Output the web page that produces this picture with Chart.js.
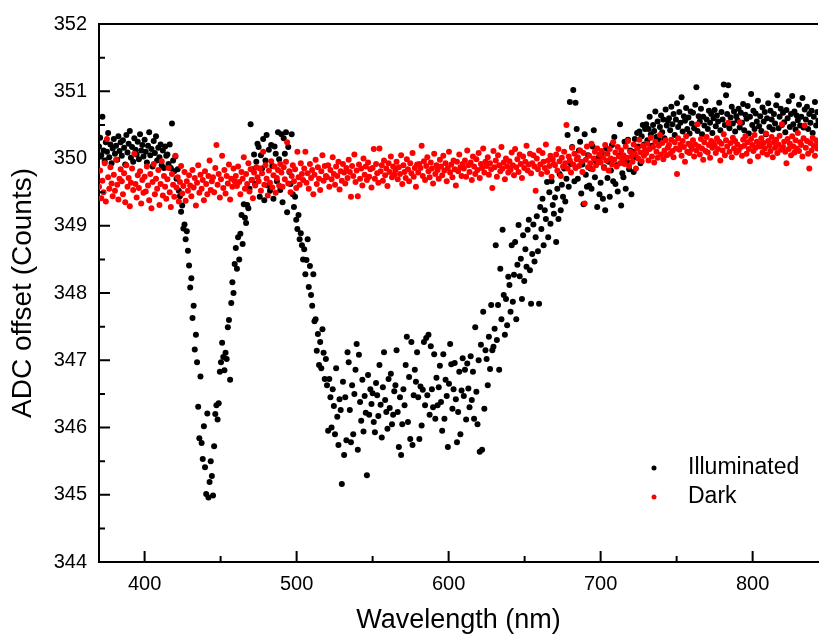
<!DOCTYPE html>
<html>
<head>
<meta charset="utf-8">
<script src="https://cdn.jsdelivr.net/npm/chart.js@4.4.0/dist/chart.umd.min.js"></script>
<style>
  html, body { margin: 0; padding: 0; background: #fff; overflow: hidden; }
</style>
</head>
<body>
<canvas id="chart" width="821" height="637"></canvas>
<script>
// WAVELENGTH GRID (nm)
const wlStart = 370;
const wlStep = 0.75;

// ADC OFFSET, ILLUMINATED (counts), one row = 15 nm
const illuminated = [
  350.18,350.31,350.05,350.62,350.12,349.96,350.24,350.10,350.38,350.02,350.21,349.93,350.15,350.29,350.07,350.19,349.98,350.33,350.11,350.24,
  350.04,350.27,350.16,349.91,350.35,350.09,350.22,350.41,350.01,350.17,349.95,350.30,350.13,350.06,350.25,349.99,350.36,350.12,350.20,350.03,
  350.28,350.10,349.94,350.19,350.39,350.05,350.14,349.88,350.26,350.08,350.33,349.97,350.16,350.02,350.21,349.90,350.12,349.86,350.18,350.04,
  350.06,349.92,350.21,349.86,350.52,349.97,349.81,350.03,349.70,349.84,349.52,349.44,349.21,349.30,348.96,349.02,348.80,348.92,348.63,348.41,
  348.08,348.22,347.63,347.81,347.16,347.38,346.97,346.31,345.84,346.76,345.77,345.53,346.02,345.41,345.01,346.21,344.96,345.19,345.50,345.28,
  344.99,345.72,346.20,346.33,346.12,346.36,346.83,346.97,347.26,347.05,346.85,347.11,347.02,347.49,347.60,346.71,347.85,348.16,348.00,348.43,
  348.67,348.36,348.83,348.50,348.88,349.16,348.73,349.32,349.12,349.04,349.31,349.26,349.55,350.51,349.68,349.84,350.06,349.62,349.95,350.22,
  350.17,349.43,350.05,349.85,350.29,349.38,349.97,350.35,349.60,350.13,349.52,350.20,349.89,349.40,350.18,350.07,349.66,350.39,349.99,349.53,
  350.36,349.35,350.30,350.07,350.39,349.20,350.17,349.80,349.62,350.36,349.47,349.28,349.43,349.09,348.95,349.16,348.80,348.89,348.71,348.50,
  348.65,348.28,348.49,348.80,348.09,348.40,347.97,347.81,348.28,347.58,347.61,347.14,347.39,346.93,347.27,346.88,347.46,347.11,346.72,347.02,
  346.63,345.95,346.72,346.45,346.00,346.57,346.32,345.90,346.88,346.16,345.74,346.42,346.26,345.16,346.68,345.59,346.45,345.81,347.12,346.97,
  346.26,345.78,346.63,345.90,346.50,346.86,347.24,345.67,347.08,346.38,346.10,346.71,345.94,346.47,346.22,345.29,346.78,346.19,346.57,346.35,
  346.51,346.08,345.93,346.66,346.48,346.17,346.93,346.34,345.85,346.60,347.12,346.41,346.23,345.98,346.72,346.29,346.80,346.05,346.19,346.54,
  346.63,347.15,346.23,345.71,346.45,345.59,346.05,346.57,346.33,346.93,347.35,346.08,346.75,345.83,347.27,345.74,346.48,346.86,346.68,347.12,
  346.45,345.83,346.61,346.03,346.56,347.27,346.33,347.33,346.48,347.38,346.19,347.21,346.57,346.30,347.09,346.13,346.74,346.33,346.60,346.92,
  346.38,345.95,347.09,346.13,346.71,346.47,345.71,346.65,347.24,346.94,346.28,346.57,346.96,346.42,345.78,346.23,346.83,345.90,346.55,347.03,
  346.47,346.86,346.12,346.95,346.58,346.30,347.06,346.41,346.83,346.13,347.49,346.53,346.05,347.00,345.64,347.23,345.67,347.72,346.28,347.15,
  347.02,346.63,347.35,346.87,347.82,347.15,347.20,347.47,348.71,347.30,347.82,346.86,348.36,347.61,348.94,347.97,347.38,347.91,347.52,348.24,
  348.12,347.72,348.71,347.87,348.27,348.76,347.61,348.42,349.01,348.25,348.51,347.91,348.86,348.18,348.65,348.39,348.94,349.09,348.34,347.84,
  348.58,349.02,348.47,348.83,349.14,348.62,347.84,349.28,348.95,349.40,348.71,349.23,349.10,349.65,348.83,349.50,349.03,349.66,349.31,349.18,
  349.42,348.76,349.55,349.10,349.77,349.23,349.61,349.43,349.85,349.36,349.70,350.35,349.58,350.84,349.92,350.17,351.02,349.66,350.83,350.44,
  349.70,350.12,350.25,349.48,349.91,349.32,350.36,349.76,349.58,350.05,349.60,349.85,349.55,350.18,350.42,349.72,349.96,349.28,350.01,349.47,
  349.64,350.08,349.40,349.87,349.23,350.15,349.71,349.95,349.43,349.82,350.20,349.66,350.32,349.62,349.90,349.51,350.04,350.51,349.30,349.78,
  349.72,350.25,349.55,349.96,350.28,349.84,350.12,349.47,350.10,349.80,350.29,350.02,350.38,350.18,350.40,349.93,350.33,350.50,350.21,350.44,
  350.51,350.27,350.44,350.62,350.36,350.19,350.50,350.41,350.70,350.32,350.55,350.28,350.47,350.64,350.39,350.58,350.30,350.73,350.49,350.56,
  350.60,350.42,350.77,350.51,350.66,350.35,350.58,350.82,350.47,350.69,350.53,350.91,350.40,350.63,350.56,350.75,350.44,350.61,350.37,350.70,
  350.52,350.68,350.45,350.80,351.06,350.41,350.63,350.55,350.74,350.36,350.62,350.49,350.85,350.58,350.44,350.71,350.53,350.66,350.38,350.60,
  350.72,350.48,350.64,350.55,350.83,350.42,350.69,350.58,351.10,350.50,350.94,350.66,351.09,350.45,350.61,350.77,350.52,350.70,350.40,350.63,
  350.57,350.74,350.46,350.68,350.53,350.81,350.42,350.65,350.59,350.78,350.37,350.62,350.96,350.50,350.71,350.44,350.67,350.55,350.86,350.48,
  350.63,350.41,350.76,350.55,350.69,350.36,350.60,350.82,350.47,350.71,350.58,350.43,350.66,350.52,350.79,350.94,350.45,350.62,350.74,350.50,
  350.68,350.54,350.39,350.72,350.60,350.85,350.47,350.66,350.93,350.51,350.70,350.43,350.64,350.57,350.80,350.49,350.62,350.90,350.46,350.73,
  350.58,350.77,350.44,350.66,350.53,350.71,350.38,350.62,350.84,350.49,350.69,350.56
];

// ADC OFFSET, DARK (counts), same grid
const dark = [
  349.58,349.82,349.41,349.67,349.50,349.93,349.36,350.29,349.72,349.55,349.87,349.63,349.44,349.76,349.52,349.98,349.61,349.39,349.70,349.84,
  349.66,349.47,349.78,349.35,349.90,349.58,349.71,349.29,349.64,349.85,349.53,350.07,349.62,349.42,349.75,349.56,349.81,349.33,349.68,349.49,
  349.73,349.51,349.88,349.60,349.38,349.77,349.26,349.65,349.92,349.47,349.70,349.55,349.83,349.31,349.62,349.96,349.45,349.74,349.58,349.40,
  349.69,349.86,349.50,349.28,349.77,349.61,349.43,350.04,349.57,349.72,349.36,349.65,349.89,349.48,349.59,349.80,349.37,349.66,349.52,349.75,
  349.60,349.44,349.83,349.57,349.71,349.30,349.64,349.90,349.49,349.76,349.55,349.68,349.38,349.81,349.62,349.47,349.74,349.97,349.53,349.66,
  349.72,349.50,349.86,350.20,349.61,349.77,349.42,349.69,350.04,349.56,349.83,349.48,349.74,349.63,349.91,349.39,349.70,349.58,349.85,349.66,
  349.74,349.59,349.88,349.65,349.47,349.80,349.70,350.02,349.55,349.77,349.62,349.93,349.51,349.84,349.68,349.41,349.79,349.60,349.87,349.72,
  349.66,349.85,349.52,349.78,350.10,349.61,349.90,349.70,349.45,349.82,349.64,349.96,349.57,349.75,349.88,349.49,349.71,349.83,349.60,349.92,
  349.79,349.58,349.87,349.69,349.95,350.24,349.63,349.81,349.50,349.74,349.90,349.66,349.84,349.56,350.10,349.72,349.61,349.93,349.77,349.68,
  349.85,350.10,349.64,349.78,349.55,349.92,349.71,349.83,349.47,349.76,349.98,349.62,349.87,349.70,349.53,349.81,350.05,349.67,349.89,349.74,
  349.72,349.90,349.58,349.83,349.69,350.02,349.77,349.61,349.88,349.74,349.95,349.54,349.81,349.67,349.92,349.79,349.63,349.86,349.71,349.98,
  349.80,349.43,349.89,349.74,350.06,349.65,349.82,349.44,349.91,349.70,349.85,349.60,350.00,349.76,349.88,349.68,349.94,349.73,349.84,349.57,
  349.86,350.14,349.70,349.92,349.78,349.64,350.15,349.81,349.90,349.67,349.97,349.75,349.85,349.59,349.93,349.80,350.03,349.72,349.88,349.76,
  349.83,349.95,349.69,349.87,349.77,350.05,349.62,349.90,349.80,349.71,349.99,349.84,349.66,349.93,349.78,350.08,349.73,349.86,349.58,349.91,
  349.79,349.92,349.86,350.19,349.74,349.96,349.68,349.89,350.02,349.81,349.72,349.94,349.85,349.63,350.07,349.77,349.90,349.83,349.70,349.98,
  349.88,349.75,350.04,349.82,349.93,349.66,349.86,350.10,349.79,349.91,349.72,349.97,349.84,349.60,349.95,349.81,350.06,349.87,349.74,349.92,
  349.85,349.97,349.73,350.12,349.90,349.80,349.94,349.68,350.03,349.88,349.77,349.99,349.83,350.08,349.71,349.92,349.86,350.15,349.79,349.95,
  349.89,350.02,349.76,349.93,349.84,349.56,350.11,349.87,349.97,349.73,350.05,349.90,349.81,350.17,349.85,349.94,349.69,350.00,349.88,349.79,
  349.96,349.83,350.09,349.90,349.75,350.14,349.87,349.99,349.80,350.06,349.92,349.71,350.03,349.86,349.95,350.19,349.82,349.91,350.07,349.78,
  349.93,350.05,349.88,349.52,350.00,349.84,350.12,349.91,349.77,350.08,349.95,349.86,350.21,349.80,349.97,349.89,350.04,349.73,349.99,349.92,
  349.90,350.06,349.82,350.14,349.96,349.74,350.01,349.88,350.10,349.93,350.50,349.85,350.03,349.97,349.79,350.16,349.91,350.07,349.86,349.99,
  350.02,349.89,350.12,349.95,349.80,350.08,349.33,349.98,350.18,349.87,350.04,349.93,350.22,349.84,350.00,350.10,349.90,350.15,349.96,350.06,
  349.94,350.11,350.02,349.86,350.20,349.97,350.07,349.82,350.14,350.00,349.91,350.24,349.98,350.09,349.88,350.17,350.03,349.93,350.12,349.99,
  350.05,349.92,350.18,350.01,350.26,349.89,350.10,350.03,349.95,350.21,350.07,349.85,350.15,350.00,350.28,350.09,349.96,350.19,350.04,350.13,
  350.08,350.22,349.97,350.14,350.31,350.03,350.17,349.94,350.25,350.10,350.01,350.19,350.35,350.06,350.23,349.99,350.12,350.27,350.05,350.16,
  350.20,350.07,350.28,350.11,350.02,350.24,350.15,349.77,350.30,350.13,350.21,350.04,350.26,350.17,349.95,350.33,350.10,350.22,350.08,350.19,
  350.14,350.27,350.03,350.21,350.12,350.51,350.18,350.06,350.29,350.15,349.98,350.24,350.11,350.32,350.09,350.20,350.01,350.26,350.16,350.23,
  350.19,350.08,350.30,350.14,350.25,349.97,350.22,350.12,350.36,350.05,350.27,350.18,350.53,350.10,350.23,350.02,350.31,350.15,350.26,350.09,
  350.21,350.12,350.54,350.17,350.04,350.28,350.19,350.33,350.07,350.24,350.14,349.96,350.29,350.20,350.11,350.35,350.16,350.25,350.03,350.22,
  350.18,350.30,350.09,350.23,350.15,350.37,350.06,350.26,350.19,350.11,350.32,350.02,350.24,350.16,350.28,350.08,350.21,350.34,350.13,350.51,
  350.17,350.25,350.10,349.93,350.29,350.14,350.22,350.05,350.33,350.18,350.09,350.27,350.15,350.38,350.11,350.24,350.20,350.03,350.30,350.49,
  350.16,350.26,350.07,349.85,350.23,350.12,350.31,350.19,350.04,350.27,350.15,350.22
];

// TICKS
const xTicks = [400, 500, 600, 700, 800];
const xMinor = [450, 550, 650, 750];
const yTicks = [344, 345, 346, 347, 348, 349, 350, 351, 352];
const yMinor = [344.5, 345.5, 346.5, 347.5, 348.5, 349.5, 350.5, 351.5];

const FONT = "'Liberation Sans', Arial, Helvetica, sans-serif";

function toPoints(vals) {
  return vals.map((v, i) => ({ x: wlStart + i * wlStep, y: v }));
}

// inward ticks + top frame line
const frameTicks = {
  id: 'frameTicks',
  afterDraw(chart) {
    const { ctx, chartArea: a, scales: { x, y } } = chart;
    ctx.save();
    ctx.strokeStyle = '#000';
    ctx.lineWidth = 2;
    ctx.beginPath();
    ctx.moveTo(a.left - 1, a.top);
    ctx.lineTo(a.right, a.top);
    xTicks.forEach(v => { const p = x.getPixelForValue(v); ctx.moveTo(p, a.bottom); ctx.lineTo(p, a.bottom - 11); });
    xMinor.forEach(v => { const p = x.getPixelForValue(v); ctx.moveTo(p, a.bottom); ctx.lineTo(p, a.bottom - 6); });
    yTicks.forEach(v => { const p = y.getPixelForValue(v); ctx.moveTo(a.left, p); ctx.lineTo(a.left + 11, p); });
    yMinor.forEach(v => { const p = y.getPixelForValue(v); ctx.moveTo(a.left, p); ctx.lineTo(a.left + 6, p); });
    ctx.stroke();
    ctx.restore();
  }
};

// legend inside the plot, lower right
const insetLegend = {
  id: 'insetLegend',
  afterDraw(chart) {
    const ctx = chart.ctx;
    const items = [chart.data.datasets[0], chart.data.datasets[1]];
    ctx.save();
    ctx.font = '23px ' + FONT;
    ctx.textBaseline = 'middle';
    ctx.textAlign = 'left';
    items.forEach((ds, i) => {
      const yy = 468 + i * 29;
      ctx.fillStyle = ds.backgroundColor;
      ctx.beginPath();
      ctx.arc(654, yy, 2.5, 0, Math.PI * 2);
      ctx.fill();
      ctx.fillStyle = '#000';
      ctx.fillText(ds.label, 688, yy);
    });
    ctx.restore();
  }
};

new Chart(document.getElementById('chart'), {
  type: 'scatter',
  data: {
    datasets: [
      { label: 'Illuminated', data: toPoints(illuminated), backgroundColor: '#000000', pointRadius: 3, pointBorderWidth: 0, pointHoverRadius: 3, order: 1 },
      { label: 'Dark', data: toPoints(dark), backgroundColor: '#ff0000', pointRadius: 3, pointBorderWidth: 0, pointHoverRadius: 3, order: 0 }
    ]
  },
  options: {
    responsive: false,
    animation: false,
    events: [],
    layout: { padding: { top: 22, right: 0, bottom: 0, left: 0 } },
    plugins: { legend: { display: false }, tooltip: { enabled: false } },
    scales: {
      x: {
        type: 'linear', min: 370, max: 843,
        afterBuildTicks: s => { s.ticks = xTicks.map(v => ({ value: v })); },
        afterFit: s => { s.height = 75; },
        grid: { display: false, drawTicks: false },
        border: { display: true, color: '#000', width: 2 },
        ticks: { color: '#000', padding: 10, font: { family: FONT, size: 20 } },
        title: { display: true, text: 'Wavelength (nm)', color: '#000', font: { family: FONT, size: 27 }, padding: { top: 0, bottom: 0 } }
      },
      y: {
        type: 'linear', min: 344, max: 352,
        afterBuildTicks: s => { s.ticks = yTicks.map(v => ({ value: v })); },
        afterFit: s => { s.width = 99; },
        grid: { display: false, drawTicks: false },
        border: { display: true, color: '#000', width: 2 },
        ticks: { color: '#000', padding: 12, font: { family: FONT, size: 20 } },
        title: { display: true, text: 'ADC offset (Counts)', color: '#000', font: { family: FONT, size: 28 }, padding: { top: 6, bottom: 0 } }
      }
    }
  },
  plugins: [frameTicks, insetLegend]
});
</script>
</body>
</html>
